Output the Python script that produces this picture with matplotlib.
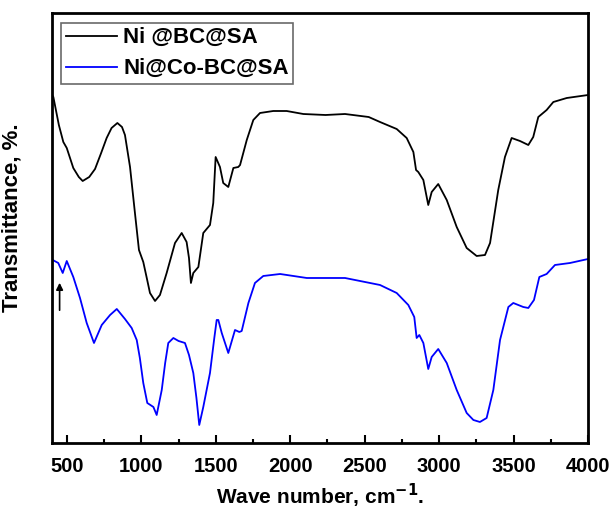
import numpy as np
import matplotlib.pyplot as plt
from matplotlib.ticker import MultipleLocator

plt.rcParams['font.family'] = ['Liberation Sans', 'DejaVu Sans']
plt.rcParams['font.weight'] = 'bold'
plt.rcParams['mathtext.default'] = 'bf'

""" FTIR spectra read off the picture (transmittance in arbitrary units) """

wn_a = [400, 409, 446, 476, 499, 543, 580, 606, 650, 689, 730, 767, 800, 839,
        870, 890, 924, 957, 984, 1013, 1035, 1058, 1092, 1125, 1170, 1226, 1271,
        1304, 1320, 1333, 1349, 1383, 1416, 1461, 1483, 1499, 1528, 1550, 1584,
        1618, 1651, 1663, 1708, 1752, 1797, 1886, 1976, 2088, 2237, 2368, 2527,
        2603, 2715, 2782, 2827, 2845, 2860, 2894, 2927, 2950, 2994, 3051, 3118,
        3185, 3252, 3308, 3342, 3397, 3442, 3487, 3543, 3599, 3632, 3666, 3722,
        3767, 3857, 4000]
t_a = [348, 346, 318, 301, 295, 275, 266, 262, 266, 274, 290, 305, 315, 320,
       316, 308, 276, 230, 193, 181, 166, 150, 142, 148, 170, 200, 210,
       201, 185, 160, 170, 176, 210, 218, 240, 286, 276, 260, 256,
       275, 276, 278, 303, 323, 330, 332, 332, 329, 328, 329, 326,
       321, 314, 305, 291, 273, 271, 263, 238, 251, 259, 243, 216,
       195, 187, 188, 200, 253, 286, 305, 302, 298, 306, 326, 333,
       341, 345, 348]

wn_b = [400, 405, 442, 472, 499, 543, 588, 633, 682, 734, 790, 835, 890, 935,
        969, 990, 1013, 1040, 1081, 1103, 1137, 1160, 1181, 1215, 1250, 1293,
        1320, 1349, 1370, 1389, 1416, 1461, 1490, 1506, 1517, 1540, 1584, 1629,
        1658, 1674, 1719, 1763, 1819, 1932, 2111, 2368, 2603, 2715, 2793, 2833,
        2849, 2867, 2894, 2927, 2950, 2994, 3051, 3118, 3185, 3230, 3274, 3319,
        3364, 3409, 3465, 3498, 3565, 3599, 3637, 3673, 3722, 3778, 3879, 4000]
t_b = [183, 183, 180, 170, 182, 166, 145, 120, 100, 118, 128, 134, 124, 115,
       103, 85, 60, 40, 36, 28, 53, 80, 100, 105, 102, 100,
       88, 70, 45, 18, 36, 70, 105, 123, 123, 110, 90, 113,
       111, 112, 140, 160, 167, 169, 165, 165, 158, 150, 138, 126,
       105, 108, 100, 74, 86, 94, 80, 53, 30, 23, 21, 25,
       53, 103, 136, 140, 136, 135, 143, 166, 169, 178, 180, 184]

labels = ["Ni @BC@SA", "Ni@Co-BC@SA"]
arrow_x = 451
arrow_y = [130, 163]

fig = plt.figure(figsize=(6.14, 5.12), dpi=100)
ax = fig.add_axes([0.0847, 0.1348, 0.8730, 0.8398])

ax.plot(wn_a, t_a, color='black', lw=1.3, label=labels[0])
ax.plot(wn_b, t_b, color='#0000ff', lw=1.3, label=labels[1])

ax.annotate("", xy=(arrow_x, arrow_y[1]), xytext=(arrow_x, arrow_y[0]),
            arrowprops=dict(arrowstyle='-|>', color='black', lw=1.2,
                            mutation_scale=10))

ax.set_xlim(400, 4000)
ax.set_ylim(0, 430)
ax.set_yticks([])
ax.xaxis.set_major_locator(MultipleLocator(500))
ax.xaxis.set_minor_locator(MultipleLocator(250))
ax.tick_params(axis='x', which='major', direction='in', length=6, width=1.5,
               labelsize=14.5, pad=10)
ax.tick_params(axis='x', which='minor', direction='in', length=3, width=1.5)
for s in ax.spines.values():
    s.set_linewidth(2)

ax.set_xlabel("Wave number, cm$^{-1}$.", fontsize=15, fontweight='bold',
              labelpad=4)
ax.set_ylabel("Transmittance, %.", fontsize=16, fontweight='bold', labelpad=12)
ax.yaxis.set_label_coords(-0.055, 0.525)

leg = ax.legend(loc='upper left', bbox_to_anchor=(0.017, 0.977), fontsize=16,
                frameon=True, fancybox=False, edgecolor='#444444',
                handlelength=2.3, handletextpad=0.3, borderpad=0.2,
                labelspacing=0.45, borderaxespad=0)
leg.get_frame().set_linewidth(1.2)
for t in leg.get_texts():
    t.set_fontweight('bold')

fig.savefig("out.png", dpi=100)
